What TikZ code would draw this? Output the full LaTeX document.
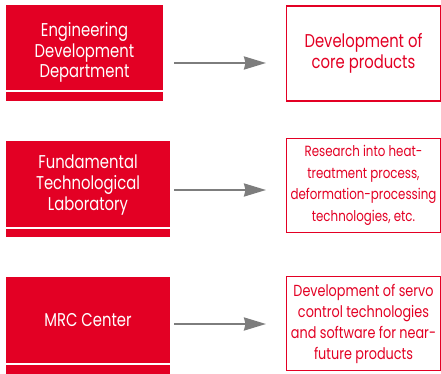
\documentclass[tikz,border=0pt]{standalone}
\usepackage{fontspec}
\setmainfont{Poppins}[FakeStretch=0.8]
\usetikzlibrary{arrows.meta}
\definecolor{brandred}{RGB}{227,0,36}
\definecolor{arrowgray}{RGB}{125,125,125}
\tikzset{
  deptbox/.style={fill=brandred, draw=none, inner sep=0pt, minimum height=96pt, anchor=north west},
  deptline/.style={draw=white, line width=1.8pt},
  depttext/.style={text=white, align=center, font=\fontsize{18.5}{20.7}\selectfont, inner sep=0pt},
  taskbox/.style={draw=brandred, line width=1.2pt, fill=white, inner sep=0pt, minimum width=154pt, minimum height=94pt, anchor=north west},
  tasktext/.style={text=brandred, align=center, inner sep=0pt},
  flow/.style={draw=arrowgray, line width=2.2pt, -{Stealth[length=22pt,width=13pt,inset=1.5pt]}}
}
\begin{document}
\begin{tikzpicture}[x=1pt,y=-1pt]
\useasboundingbox (0,0) rectangle (441,374);
% left boxes
\node[deptbox, minimum width=157pt] (L1) at (6,5) {};
\node[deptbox, minimum width=164pt] (L2) at (6,141) {};
\node[deptbox, minimum width=164pt, minimum height=97pt] (L3) at (6,277) {};
\draw[deptline] ([yshift=-86pt]L1.north west) -- ([yshift=-86pt]L1.north east);
\draw[deptline] ([yshift=-87pt]L2.north west) -- ([yshift=-87pt]L2.north east);
\draw[deptline] ([yshift=-87pt]L3.north west) -- ([yshift=-87pt]L3.north east);
\node[depttext] (T1) at (84.5,52.5) {Engineering\\Development\\Department};
\node[depttext] (T2) at (88,185) {Fundamental\\Technological\\Laboratory};
\node[depttext] (T3) at (88,320) {MRC Center};
% right boxes
\node[taskbox, minimum height=95pt] (R1) at (286,5.5) {};
\node[taskbox] (R2) at (286,138) {};
\node[taskbox] (R3) at (286,276) {};
\node[tasktext, font=\fontsize{18.5}{20.7}\selectfont] (S1) at (363.5,53) {Development of\\core products};
\node[tasktext, font=\fontsize{14.8}{21.5}\selectfont] (S2) at (363.5,185.5) {Research into heat-\\treatment process,\\deformation-processing\\technologies, etc.};
\node[tasktext, font=\fontsize{16}{21}\selectfont] (S3) at (363.5,324) {Development of servo\\control technologies\\and software for near-\\future products};
% arrows
\coordinate (a1) at (174,63);  \coordinate (b1) at (266,63);
\coordinate (a2) at (174,190); \coordinate (b2) at (266,190);
\coordinate (a3) at (174,324); \coordinate (b3) at (266,324);
\draw[flow] (a1) -- (b1);
\draw[flow] (a2) -- (b2);
\draw[flow] (a3) -- (b3);
\end{tikzpicture}
\end{document}
